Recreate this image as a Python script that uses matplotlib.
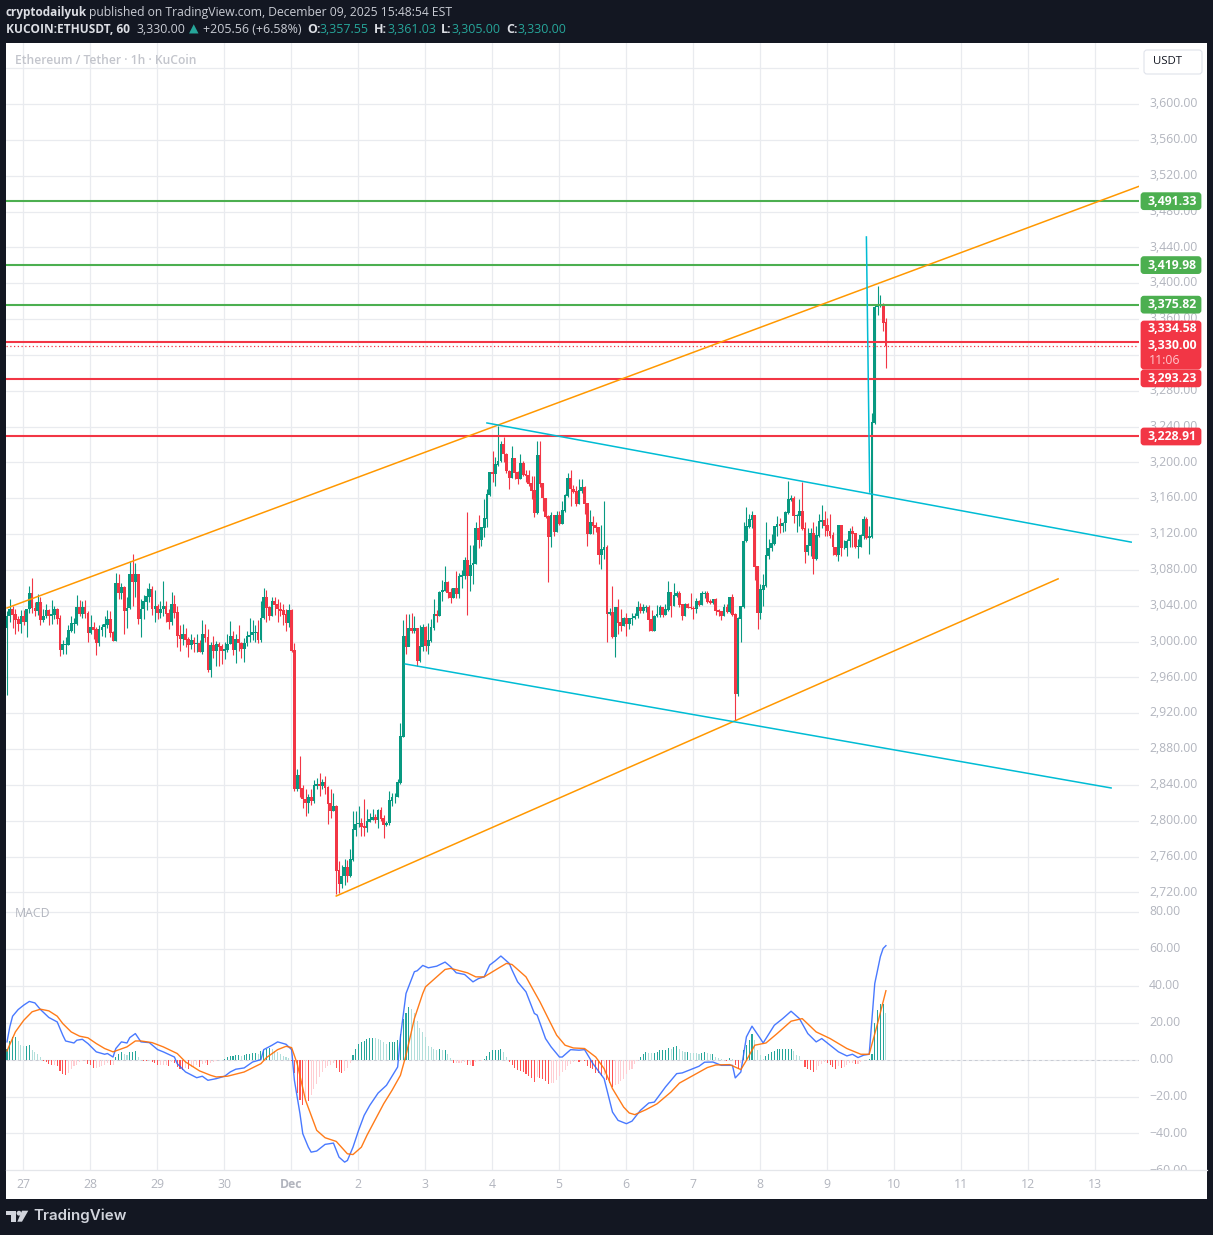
# ETH/USDT 1h chart with MACD pane
import matplotlib
matplotlib.use("Agg")
import matplotlib.pyplot as plt
import matplotlib.patches as patches
from matplotlib.transforms import Bbox

plt.rcParams['font.family'] = ['Open Sans', 'DejaVu Sans']

# candles, one row of ten bars per line
first_open = 3015
closes = [
    3028, 3036, 3030, 3024, 3020, 3028, 3022, 3036, 3053, 3037,
    3034, 3043, 3024, 3028, 3034, 3029, 3030, 3035, 3025, 2991,
    2996, 2996, 3012, 3020, 3020, 3038, 3031, 3038, 3031, 3010,
    3015, 3013, 2998, 3013, 3016, 3019, 3024, 3010, 3001, 3065,
    3054, 3060, 3034, 3037, 3075, 3067, 3075, 3025, 3036, 3044,
    3050, 3058, 3036, 3039, 3032, 3036, 3039, 3031, 3022, 3041,
    3032, 3006, 3003, 3008, 3002, 2996, 3001, 2997, 2998, 2988,
    3008, 3004, 2968, 2995, 2989, 2997, 2994, 2989, 2991, 2997,
    3005, 2991, 3002, 2998, 2992, 2998, 3005, 3007, 3010, 3010,
    3002, 3026, 3049, 3038, 3028, 3045, 3041, 3036, 3034, 3030,
    3021, 3034, 2990, 2835, 2850, 2836, 2824, 2820, 2826, 2822,
    2839, 2840, 2839, 2842, 2837, 2819, 2811, 2816, 2744, 2729,
    2738, 2748, 2738, 2756, 2790, 2796, 2797, 2793, 2792, 2799,
    2801, 2803, 2801, 2811, 2802, 2795, 2797, 2822, 2826, 2826,
    2842, 2894, 3005, 2994, 3014, 3012, 3014, 2978, 2994, 3016,
    2995, 3001, 3015, 3030, 3029, 3055, 3057, 3066, 3054, 3049,
    3059, 3053, 3072, 3073, 3090, 3073, 3085, 3087, 3126, 3113,
    3127, 3137, 3164, 3188, 3187, 3197, 3201, 3220, 3209, 3190,
    3183, 3204, 3188, 3182, 3199, 3186, 3185, 3176, 3168, 3143,
    3207, 3176, 3160, 3139, 3117, 3140, 3122, 3140, 3131, 3146,
    3163, 3182, 3170, 3167, 3154, 3168, 3172, 3154, 3120, 3133,
    3129, 3127, 3097, 3102, 3105, 3031, 3032, 3005, 3038, 3021,
    3017, 3026, 3020, 3025, 3026, 3028, 3038, 3034, 3038, 3038,
    3024, 3012, 3028, 3030, 3038, 3030, 3035, 3054, 3040, 3051,
    3053, 3041, 3028, 3041, 3038, 3037, 3036, 3044, 3041, 3053,
    3053, 3044, 3043, 3047, 3034, 3033, 3028, 3038, 3033, 3049,
    3030, 2942, 3025, 3039, 3112, 3128, 3136, 3140, 3083, 3032,
    3058, 3062, 3096, 3104, 3109, 3128, 3130, 3129, 3132, 3144,
    3158, 3159, 3140, 3140, 3145, 3126, 3100, 3107, 3120, 3092,
    3118, 3134, 3135, 3129, 3123, 3118, 3105, 3097, 3129, 3104,
    3104, 3112, 3123, 3120, 3105, 3106, 3118, 3136, 3116, 3117,
    3244, 3373, 3376, 3376, 3356, 3330,
]
highs = [
    3034, 3047, 3040, 3036, 3028, 3035, 3035, 3036, 3062, 3071,
    3044, 3053, 3050, 3036, 3042, 3036, 3046, 3040, 3038, 3030,
    3002, 3005, 3018, 3028, 3026, 3052, 3046, 3045, 3046, 3034,
    3030, 3022, 3016, 3018, 3020, 3028, 3035, 3034, 3012, 3077,
    3075, 3065, 3062, 3050, 3090, 3098, 3088, 3075, 3048, 3052,
    3060, 3065, 3062, 3058, 3042, 3045, 3068, 3045, 3036, 3055,
    3052, 3040, 3018, 3020, 3015, 3005, 3008, 3005, 3008, 3002,
    3024, 3020, 3014, 3000, 3006, 3001, 3000, 2997, 3000, 3008,
    3023, 3012, 3008, 3018, 3000, 3004, 3012, 3026, 3024, 3018,
    3024, 3045, 3060, 3058, 3040, 3050, 3050, 3048, 3044, 3042,
    3036, 3042, 3036, 2998, 2858, 2872, 2840, 2835, 2830, 2835,
    2845, 2848, 2853, 2847, 2850, 2839, 2835, 2831, 2818, 2755,
    2751, 2757, 2756, 2768, 2811, 2811, 2817, 2803, 2824, 2813,
    2809, 2813, 2808, 2813, 2815, 2806, 2800, 2833, 2831, 2831,
    2847, 2909, 3024, 3031, 3031, 3032, 3028, 3015, 3018, 3020,
    3017, 3021, 3025, 3047, 3035, 3056, 3069, 3084, 3068, 3060,
    3060, 3079, 3077, 3080, 3094, 3145, 3108, 3108, 3133, 3141,
    3127, 3159, 3170, 3189, 3213, 3206, 3241, 3224, 3228, 3210,
    3191, 3218, 3204, 3190, 3209, 3202, 3192, 3192, 3185, 3185,
    3224, 3224, 3177, 3160, 3141, 3145, 3140, 3146, 3146, 3157,
    3165, 3188, 3192, 3175, 3174, 3181, 3181, 3174, 3155, 3147,
    3140, 3134, 3127, 3130, 3157, 3108, 3038, 3062, 3038, 3048,
    3036, 3027, 3032, 3026, 3032, 3032, 3045, 3043, 3042, 3041,
    3041, 3035, 3030, 3041, 3041, 3038, 3042, 3068, 3054, 3065,
    3056, 3056, 3042, 3043, 3043, 3054, 3040, 3049, 3046, 3056,
    3056, 3057, 3047, 3048, 3049, 3036, 3034, 3042, 3042, 3050,
    3053, 3032, 3027, 3040, 3134, 3150, 3142, 3146, 3140, 3084,
    3064, 3075, 3133, 3114, 3120, 3129, 3140, 3138, 3134, 3146,
    3179, 3164, 3163, 3142, 3159, 3178, 3134, 3127, 3127, 3133,
    3129, 3142, 3152, 3146, 3138, 3142, 3122, 3106, 3129, 3129,
    3113, 3114, 3127, 3129, 3121, 3114, 3120, 3140, 3139, 3129,
    3255, 3377, 3397, 3387, 3378, 3361,
]
lows = [
    2940, 3022, 3015, 3008, 3012, 3010, 3018, 3005, 3032, 3032,
    3028, 3030, 3018, 3022, 3026, 3018, 3020, 3025, 3020, 2984,
    2986, 2986, 2996, 3011, 3010, 3018, 3028, 3026, 3026, 3000,
    3008, 3003, 2985, 2995, 3006, 3005, 3015, 3005, 3001, 3001,
    3048, 3048, 3008, 3015, 3036, 3040, 3050, 3020, 3005, 3025,
    3035, 3044, 3030, 3022, 3025, 3026, 3028, 3022, 3014, 3018,
    3026, 2994, 2990, 2996, 2994, 2983, 2992, 2988, 2988, 2988,
    2986, 3000, 2966, 2960, 2982, 2973, 2973, 2975, 2980, 2988,
    2997, 2985, 2976, 2990, 2982, 2977, 2995, 3000, 3002, 3000,
    2998, 3000, 3025, 3022, 3024, 3028, 3030, 3022, 3028, 3018,
    3012, 3016, 2988, 2833, 2833, 2826, 2814, 2805, 2809, 2818,
    2820, 2835, 2828, 2835, 2830, 2796, 2803, 2811, 2718, 2719,
    2725, 2728, 2732, 2737, 2755, 2783, 2793, 2783, 2783, 2788,
    2799, 2801, 2797, 2792, 2800, 2781, 2794, 2795, 2817, 2820,
    2826, 2841, 2893, 2986, 2995, 3010, 3010, 2973, 2977, 2990,
    2990, 2986, 3000, 3013, 3022, 3029, 3045, 3056, 3049, 3043,
    3049, 3049, 3049, 3060, 3070, 3030, 3056, 3064, 3087, 3104,
    3107, 3117, 3128, 3162, 3178, 3174, 3196, 3200, 3200, 3188,
    3170, 3183, 3181, 3176, 3181, 3185, 3178, 3174, 3159, 3139,
    3142, 3172, 3146, 3138, 3066, 3105, 3118, 3122, 3130, 3131,
    3145, 3161, 3151, 3166, 3151, 3154, 3166, 3142, 3107, 3120,
    3120, 3122, 3087, 3081, 3092, 2999, 3030, 3004, 2983, 3008,
    3012, 3017, 3006, 3014, 3019, 3025, 3026, 3032, 3032, 3033,
    3012, 3012, 3012, 3027, 3027, 3027, 3030, 3034, 3027, 3040,
    3050, 3039, 3024, 3028, 3037, 3036, 3025, 3032, 3040, 3041,
    3049, 3043, 3042, 3042, 3030, 3028, 3024, 3028, 3032, 3032,
    3029, 2912, 2939, 3000, 3037, 3111, 3127, 3127, 3069, 3014,
    3025, 3040, 3061, 3092, 3101, 3108, 3118, 3121, 3122, 3123,
    3142, 3157, 3132, 3122, 3129, 3125, 3088, 3097, 3095, 3075,
    3091, 3117, 3127, 3118, 3118, 3116, 3097, 3095, 3090, 3095,
    3103, 3095, 3106, 3105, 3104, 3093, 3105, 3114, 3115, 3098,
    3116, 3243, 3365, 3373, 3347, 3305,
]

# MACD pane, read at the turning points of each line
macd_bars = [0, 1, 2, 4, 6, 8, 10, 12, 15, 18, 20, 21, 24, 25, 27, 29, 32, 35, 36, 38,
             39, 41, 43, 44, 46, 48, 51, 54, 56, 60, 61, 64, 68, 70, 72, 75, 78, 80, 82, 85,
             88, 91, 92, 95, 97, 100, 102, 103, 105, 106, 108, 109, 111, 114, 117, 119, 121, 122, 124, 126,
             128, 130, 133, 136, 140, 141, 143, 146, 147, 149, 151, 154, 157, 159, 161, 164, 167, 169, 171, 173,
             175, 177, 180, 181, 183, 186, 189, 190, 193, 195, 198, 199, 202, 205, 207, 210, 214, 217, 219, 222,
             224, 227, 230, 232, 236, 240, 242, 248, 250, 253, 256, 260, 261, 263, 265, 267, 270, 271, 275, 278,
             281, 284, 287, 290, 292, 295, 298, 301, 303, 305, 307, 309, 311, 313, 314, 315]
macd_values = [9.6, 17.7, 23.5, 27.1, 29.5, 31.5, 30.7, 27.1, 22.8, 20.4, 13.2, 10.1, 9.0, 10.5, 11.0, 8.7, 4.2, 2.9, 3.3, 1.4,
               6.0, 9.6, 9.0, 11.9, 14.1, 9.6, 9.2, 5.4, 4.2, 1.4, -2.2, -6.7, -9.8, -9.0, -11.2, -10.3, -9.0, -6.7, -5.2, -4.5,
               -1.3, 0, 5.4, 7.8, 9.6, 8.3, 5.4, -11.2, -29.3, -40.1, -47.4, -50.1, -49.5, -45.9, -45.2, -52.8, -55.5, -54.6, -47.4, -38.3,
               -30.2, -24.8, -18.1, -13.9, -4.0, 12.3, 35.8, 47.6, 48.1, 51.0, 49.7, 50.6, 52.8, 50.3, 47.0, 46.1, 42.1, 43.9, 44.8, 51.2,
               53.5, 56.1, 52.1, 48.5, 42.1, 36.7, 25.0, 24.1, 11.4, 6.9, 1.4, 1.4, 5.4, 5.1, 5.4, -2.2, -10.3, -28.4, -32.9, -34.7,
               -33.3, -27.5, -23.5, -23.0, -14.8, -7.6, -7.2, -3.6, -1.4, -1.3, -3.1, -3.1, -9.9, -6.7, 12.3, 18.1, 11.4, 9.0, 18.6, 22.2,
               26.2, 22.2, 14.1, 9.6, 11.4, 7.8, 4.2, 2.0, 2.9, 1.1, 2.4, 2.9, 41.2, 55.7, 60.2, 61.7]
signal_bars = [0, 3, 6, 9, 12, 15, 18, 20, 23, 26, 29, 32, 35, 38, 43, 46, 48, 52, 56, 61,
               64, 69, 73, 75, 79, 85, 91, 93, 97, 100, 102, 104, 107, 111, 114, 118, 122, 124, 127, 129,
               135, 138, 141, 143, 146, 149, 150, 154, 157, 159, 165, 168, 171, 176, 179, 181, 186, 189, 191, 194,
               197, 200, 203, 207, 211, 214, 217, 221, 223, 225, 229, 233, 238, 241, 246, 251, 254, 259, 263, 265,
               268, 272, 276, 281, 285, 290, 295, 301, 306, 309, 312, 315]
signal_values = [4.7, 15, 21.3, 25.9, 27.3, 26.4, 23.5, 19.5, 15, 12.7, 11.8, 8.7, 6, 4.2, 6.9, 10.1, 10.1, 9.2, 6.9, 3.3,
                 -1.3, -6.1, -8.5, -9.4, -9, -6.7, -2.2, 1.1, 5.4, 7.2, 6.5, -2.2, -22, -38.3, -42.3, -44.3, -51, -51.4, -47.4, -41,
                 -23.9, -16.6, -8.5, 2.4, 22.2, 35.8, 39.4, 44.8, 48.8, 49.4, 47, 44.8, 44.8, 49.4, 52.1, 51.5, 44.8, 36.7, 31.3, 22.2,
                 13.2, 7.8, 6.3, 6, 1.4, -4.9, -15.7, -25.7, -28.9, -29.8, -27.1, -23.9, -17.5, -12.7, -8.5, -4.3, -2.9, -2.7, -5.4, -0.4,
                 7.8, 9, 14.1, 20.8, 22.2, 15, 11.4, 6, 2.9, 2.9, 19.5, 37.3]
hist_values = [
    6, 10, 12, 12, 10, 8, 7.5, 7.6, 7.7, 5,
    4, 3, 1.5, -1, -1.5, -2.5, -3, -3, -3.2, -6,
    -8, -8.5, -7.5, -5, -3.5, -3, -1.5, -1, -0.8, -2.5,
    -3, -4.5, -4.5, -4, -3.5, -3, -2, -3, -3, 1.2,
    3, 4, 3, 2.5, 4, 4.2, 4.6, 1.5, 0, -0.5,
    -0.8, -0.3, -1.5, -2, -3, -3, -3, -2.8, -3.5, -1.5,
    -2, -4, -5, -5.5, -4.5, -5.3, -4, -4, -3, -4,
    -2.5, -2, -3, -2, -1.5, -0.5, -0.3, -0.2, 0.3, 1.5,
    2, 2, 2.5, 2.5, 2, 2.3, 2.8, 3.3, 3.6, 3.6,
    3.3, 4.5, 5, 6, 6.2, 5.8, 4.5, 4, 3.2, 2,
    1.5, 1, -0.5, -7, -18, -22, -24.5, -22, -22.5, -19,
    -16, -13, -9.5, -6.5, -4.5, -3.5, -3, -2, -4.5, -6.5,
    -7.5, -6, -4.5, -2, 2.5, 5.5, 8.5, 9.5, 10, 11.2,
    11.7, 11.7, 11.5, 11, 10.5, 9.5, 8.5, 9.5, 9.5, 9.5,
    10.5, 14, 22, 25, 28.5, 27.5, 25.5, 21, 17, 15,
    12, 7.5, 7, 6, 5, 5.5, 5, 5, 3, 1,
    -2, -2, -2, -2, -1.5, -3, -3, -3.5, -1.5, -0.8,
    -0.5, 0.3, 2, 4, 5, 5, 5, 5.8, 4, 1.5,
    -1.5, -3, -4.5, -5.5, -6, -6.8, -8, -9, -10, -12,
    -9.5, -10, -10.5, -11.5, -13, -12.5, -12.5, -11, -9, -6.5,
    -5.5, -3.5, -2.5, -1.5, -1, -1.5, -0.5, -0.8, -3.5, -4.5,
    -5, -7, -7.5, -9, -8.5, -11, -12.5, -15, -13.5, -13,
    -11.5, -10.5, -8, -5.5, -5, -2.5, -0.5, 1.5, 3, 4,
    3.8, 3.5, 3.5, 4, 5, 5.2, 5.2, 6.5, 6, 7,
    7.3, 6, 4.5, 4, 4, 3.8, 3.7, 3.6, 3, 3.5,
    4, 3.5, 3, 3, 1.5, 0.8, 0.3, -0.3, -0.5, 0.8,
    0.5, -3, -5, -2, 5, 8, 10.5, 14, 10.5, 5,
    2.3, 0.5, 2, 3.3, 4, 4.8, 5.5, 5.5, 5.5, 5.5,
    6, 6, 4.5, 2.5, 2, -0.3, -4, -5, -5.5, -6.5,
    -5.5, -3.5, -2.5, -1.5, -2, -3, -4, -5, -3.5, -4.5,
    -4, -3, -2, -1.8, -2.5, -2.3, -1.5, -0.3, -0.3, 0.3,
    3, 20, 27, 30, 30.2, 25,
]

# levels and drawn lines (bar index, price)
green_levels = [3491.33, 3419.98, 3375.82]
red_levels = [3334.58, 3293.23, 3228.91]
last_price = 3330.00
countdown = "11:06"
orange_lines = [((0, 3037.5), (406, 3508.5)), ((118, 2716), (376.7, 3070))]
cyan_lines = [((172, 3244), (402.9, 3111)), ((142.7, 2975), (395.7, 2836.6)), ((308, 3451.6), (309.2, 3167))]

# axes labels
price_grid = [3640, 3600, 3560, 3520, 3480, 3440, 3400, 3360, 3320, 3280, 3240, 3200, 3160, 3120,
              3080, 3040, 3000, 2960, 2920, 2880, 2840, 2800, 2760, 2720]
price_labels = [3600, 3560, 3520, 3480, 3440, 3400, 3360, 3280, 3240, 3200, 3160, 3120,
                3080, 3040, 3000, 2960, 2920, 2880, 2840, 2800, 2760, 2720]
macd_ticks = [80, 60, 40, 20, 0, -20, -40, -60]
day_labels = ["27", "28", "29", "30", "Dec", "2", "3", "4", "5", "6", "7", "8", "9", "10", "11", "12", "13"]
day_bars = [5.9, 29.9, 53.9, 77.9, 101.9, 125.9, 149.9, 173.9, 197.9, 221.9, 245.9, 269.9, 293.9, 317.9, 341.9, 365.9, 389.9]

DARK = '#131722'
GREY = '#b2b5be'
TEAL = '#089981'
RED = '#f23645'
LEVEL_GREEN = '#4caf50'
GRID = '#e9ebef'
W, H = 1213, 1235


def axes_at(fig, left, top, right, bottom, **kw):
    return fig.add_axes([left / W, 1 - bottom / H, (right - left) / W, (bottom - top) / H], **kw)


def draw_candles(ax):
    opens = [first_open] + closes[:-1]
    for i in range(len(closes)):
        color = TEAL if closes[i] >= opens[i] else RED
        ax.vlines(i, lows[i], highs[i], color=color, linewidth=0.8, zorder=3)
        ax.bar(i, abs(closes[i] - opens[i]) + 0.8, bottom=min(closes[i], opens[i]), width=0.98,
               color=color, linewidth=0, zorder=3)


def draw_macd(ax):
    for i in range(len(hist_values)):
        v = hist_values[i]
        prev = hist_values[i - 1] if i else 0
        if v >= 0:
            color = '#26a69a' if v >= prev else '#b2dfdb'
        else:
            color = '#ff5252' if v < prev else '#ffcdd2'
        ax.bar(i, v, width=0.38, color=color, linewidth=0, zorder=2)
    ax.axhline(0, color='#c9ccd4', linewidth=0.7, linestyle=(0, (3, 3)), zorder=1)
    ax.plot(macd_bars, macd_values, color='#2962ff', linewidth=1.0, alpha=0.85, zorder=3)
    ax.plot(signal_bars, signal_values, color='#ff6d00', linewidth=1.0, alpha=0.9, zorder=4)


def style_pane(ax, ticks):
    ax.set_facecolor('none')
    for s in ax.spines.values():
        s.set_visible(False)
    ax.set_yticks(ticks)
    ax.tick_params(axis='both', length=0)
    ax.set_yticklabels([])
    ax.set_xticks(day_bars)
    ax.grid(True, color=GRID, linewidth=0.9, zorder=0)
    ax.set_axisbelow(True)
    ax.set_xlim(-0.36, 405.7)


def scale_label(ax, value, text):
    lbl = ax.annotate(text, xy=(1, value), xycoords=('axes fraction', 'data'), xytext=(7.2, 0.2),
                      textcoords='offset points', fontsize=8.8, color=GREY, ha='left', va='center',
                      annotation_clip=False)
    return lbl


def add_tag(over, y_px, text, color, height=17):
    over.add_patch(patches.FancyBboxPatch((1142, y_px - height / 2 + 1), 58, height - 2,
                                          boxstyle="round,pad=0,rounding_size=2", linewidth=2,
                                          edgecolor=color, facecolor=color, zorder=5))
    over.text(1172, y_px, text, color='white', fontsize=8.8, fontweight='bold',
              ha='center', va='center', zorder=6)


def main():
    fig = plt.figure(figsize=(W / 100, H / 100), dpi=100, facecolor=DARK)

    under = axes_at(fig, 0, 0, W, H)
    under.set_xlim(0, W)
    under.set_ylim(H, 0)
    under.axis('off')
    under.add_patch(patches.Rectangle((6, 43), 1201, 1156, color='white', linewidth=0))
    under.plot([6, 1207], [1169.5, 1169.5], color='#e4e6ea', linewidth=0.9)

    ax = axes_at(fig, 6, 43, 1139, 903)
    style_pane(ax, price_grid)
    ax.set_xticklabels([])
    ax.set_ylim(2708.2, 3668.1)
    draw_candles(ax)
    for lev in green_levels:
        ax.axhline(lev, color=LEVEL_GREEN, linewidth=1.5, zorder=4)
    for lev in red_levels:
        ax.axhline(lev, color=RED, linewidth=1.5, zorder=4)
    ax.axhline(last_price, color=RED, linewidth=0.9, linestyle=(0, (1, 2)), zorder=4)
    for (a, b) in orange_lines:
        ax.plot([a[0], b[0]], [a[1], b[1]], color='#ff9800', linewidth=1.1, zorder=5)
    for (a, b) in cyan_lines:
        ax.plot([a[0], b[0]], [a[1], b[1]], color='#00bcd4', linewidth=1.1, zorder=5)
    for p in price_labels:
        scale_label(ax, p, f"{p:,.2f}")

    macd_ax = axes_at(fig, 6, 903, 1139, 1169.5)
    style_pane(macd_ax, macd_ticks)
    macd_ax.set_xticklabels(day_labels, fontsize=8.8, color=GREY)
    macd_ax.tick_params(axis='x', pad=6)
    macd_ax.get_xticklabels()[4].set_fontweight('bold')
    macd_ax.set_ylim(-59.5, 84.8)
    draw_macd(macd_ax)
    # the lowest scale label is cut by the time axis
    for v in macd_ticks:
        lbl = scale_label(macd_ax, v, f"{v:.2f}".replace('-', '\u2212'))
        lbl.set_clip_box(Bbox([[1139, H - 1169.5], [1207, H - 903]]))
        lbl.set_clip_on(True)

    over = axes_at(fig, 0, 0, W, H)
    over.set_facecolor('none')
    over.set_xlim(0, W)
    over.set_ylim(H, 0)
    over.axis('off')

    fig.canvas.draw()

    def price_px(p):
        return H - ax.transData.transform((0, p))[1]

    for lev in green_levels:
        add_tag(over, price_px(lev) - 0.2, f"{lev:,.2f}", LEVEL_GREEN)
    add_tag(over, price_px(red_levels[1]) - 0.5, f"{red_levels[1]:,.2f}", RED)
    add_tag(over, price_px(red_levels[2]) + 0.0, f"{red_levels[2]:,.2f}", RED)
    # block with the nearest level, the last price and the countdown
    over.add_patch(patches.FancyBboxPatch((1142, 322), 58, 46, boxstyle="round,pad=0,rounding_size=2",
                                          linewidth=2, edgecolor=RED, facecolor=RED, zorder=5))
    over.text(1172, 329, f"{red_levels[0]:,.2f}", color='white', fontsize=8.8, fontweight='bold',
              ha='center', va='center', zorder=6)
    over.text(1172, 345.5, f"{last_price:,.2f}", color='white', fontsize=8.8, fontweight='bold',
              ha='center', va='center', zorder=6)
    over.text(1149, 360, countdown, color='#ffc4ca', fontsize=8.8, ha='left', va='center', zorder=6)

    over.add_patch(patches.FancyBboxPatch((1144, 50), 58, 24, boxstyle="round,pad=0,rounding_size=3",
                                          linewidth=0.8, edgecolor='#e0e3eb', facecolor='white', zorder=5))
    over.text(1167, 62, "USDT", color=DARK, fontsize=8.2, ha='center', va='center', zorder=6)

    over.text(15, 60.5, "Ethereum / Tether \u00b7 1h \u00b7 KuCoin", color='#c3c5cc', fontsize=8.7,
              fontweight='semibold', ha='left', va='center')
    over.text(15, 913.5, "MACD", color=GREY, fontsize=8.8, ha='left', va='center')

    # header
    head = '#c9ccd4'
    over.text(6, 12.5, "cryptodailyuk", color='#dcdee4', fontsize=8.5, fontweight='bold', ha='left', va='center')
    over.text(89, 12.5, "published on TradingView.com, December 09, 2025 15:48:54 EST", color=head,
              fontsize=8.73, ha='left', va='center')
    over.text(6, 29.5, "KUCOIN:ETHUSDT, 60", color='#dcdee4', fontsize=8.6, fontweight='bold', ha='left', va='center')
    over.text(136.5, 29.5, "3,330.00", color=head, fontsize=8.9, ha='left', va='center')
    over.text(189, 29.5, "\u25b2", color='#26a69a', fontsize=8.9, ha='left', va='center')
    over.text(203, 29.5, "+205.56 (+6.58%)", color=head, fontsize=8.9, ha='left', va='center')
    ohlc = [(307, "O:", 320, "3,357.55"), (374, "H:", 388, "3,361.03"),
            (441, "L:", 452, "3,305.00"), (506, "C:", 518, "3,330.00")]
    for x1, name, x2, val in ohlc:
        over.text(x1, 29.5, name, color='#dcdee4', fontsize=8.9, fontweight='bold', ha='left', va='center')
        over.text(x2, 29.5, val, color='#26a69a', fontsize=8.9, ha='left', va='center')

    # footer logo
    logo = '#d1d4dc'
    over.add_patch(patches.Polygon([(6, 1210.7), (16, 1210.7), (16, 1221.7), (10.7, 1221.7), (10.7, 1215.4), (6, 1215.4)],
                                   closed=True, color=logo, linewidth=0))
    over.add_patch(patches.Circle((19, 1213.2), 2.4, color=logo, linewidth=0))
    over.add_patch(patches.Polygon([(22, 1210.7), (28.3, 1210.7), (22, 1221.7), (17.3, 1221.7)],
                                   closed=True, color=logo, linewidth=0))
    over.text(33, 1216, "TradingView", color=logo, fontsize=10.9, fontweight='semibold',
              family=['Inter', 'DejaVu Sans'], ha='left', va='center')

    fig.savefig('out.png', dpi=100, facecolor=DARK)


if __name__ == "__main__":
    main()
